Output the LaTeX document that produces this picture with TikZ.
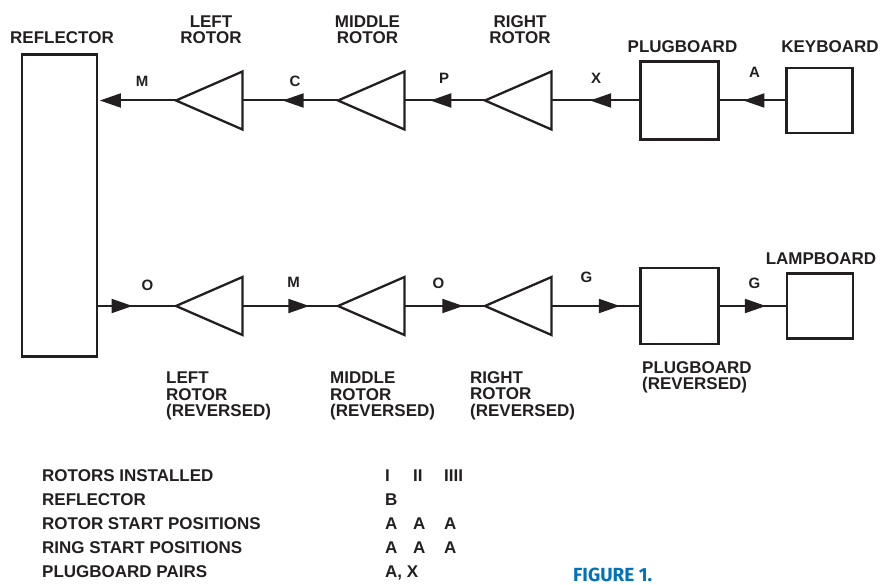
\documentclass[tikz,border=0pt]{standalone}
\usepackage{fontspec}
\setmainfont{Liberation Sans}
\newfontfamily\figfont{Fira Sans}
\usetikzlibrary{arrows.meta,decorations.markings}
\definecolor{ink}{RGB}{35,31,32}
\definecolor{figblue}{RGB}{0,114,188}
\begin{document}
\begin{tikzpicture}[x=1pt,y=-1pt,
  box/.style={draw=ink, line width=2.7pt, inner sep=0pt},
  conn/.style={draw=ink, color=ink, line width=2pt},
  tipat/.style={postaction={decorate}, decoration={markings, mark=at position #1 with {\arrow{Triangle[length=21pt,width=14pt]}}}},
  lbl/.style={font=\fontsize{17}{16.5}\selectfont\bfseries, text=ink, inner sep=0pt},
  letterlbl/.style={font=\fontsize{15}{15}\selectfont\bfseries, text=ink, inner sep=0pt},
  rotorpic/.pic={\draw[ink, line width=2.3pt, line join=miter] (0,0) -- (66.5,-29) -- (66.5,29) -- cycle;
                 \coordinate (-tip) at (0,0); \coordinate (-base) at (66.5,0);}
]
\useasboundingbox (0,0) rectangle (880,585);

% boxes
\node[box, minimum width=75pt, minimum height=302pt] (refl) at (59.5,205.5) {};
\node[box, minimum width=78pt, minimum height=78pt] (plug) at (679.5,100.5) {};
\node[box, minimum width=66pt, minimum height=65pt] (key) at (819.5,100.5) {};
\node[box, minimum width=78pt, minimum height=76pt] (plugR) at (679.5,306) {};
\node[box, minimum width=66pt, minimum height=65pt] (lamp) at (820,306) {};

% rotors
\pic (lr) at (176,100.5) {rotorpic};
\pic (mr) at (338,100.5) {rotorpic};
\pic (rr) at (485,100.5) {rotorpic};
\pic (lrb) at (176,306) {rotorpic};
\pic (mrb) at (338,306) {rotorpic};
\pic (rrb) at (485,306) {rotorpic};

% forward path
\draw[conn,-{Triangle[length=21pt,width=14pt]},shorten >=1.5pt] (lr-tip) -- (refl.east |- lr-tip);
\draw[conn,tipat=0.58] (mr-tip) -- (lr-base);
\draw[conn,tipat=0.68] (rr-tip) -- (mr-base);
\draw[conn,tipat=0.56] (plug.west) -- (rr-base);
\draw[conn,tipat=0.64] (key.west) -- (plug.east);
% return path
\draw[conn,tipat=0.44] (refl.east |- lrb-tip) -- (lrb-tip);
\draw[conn,tipat=0.7] (lrb-base) -- (mrb-tip);
\draw[conn,tipat=0.73] (mrb-base) -- (rrb-tip);
\draw[conn,tipat=0.78] (rrb-base) -- (plugR.west);
\draw[conn,tipat=0.7] (plugR.east) -- (lamp.west);

% letters
\node[letterlbl] (l1) at (142,81.5) {M};
\node[letterlbl] (l2) at (295,81) {C};
\node[letterlbl] (l3) at (444,78) {P};
\node[letterlbl] (l4) at (596,78) {X};
\node[letterlbl] (l5) at (754.5,72) {A};
\node[letterlbl] (l6) at (147.5,285.5) {O};
\node[letterlbl] (l7) at (293.5,282.5) {M};
\node[letterlbl] (l8) at (438.5,283) {O};
\node[letterlbl] (l9) at (586.5,277.5) {G};
\node[letterlbl] (l10) at (754.5,283.5) {G};

% top labels
\node[lbl] (t-refl) at (62,37.5) {REFLECTOR};
\node[lbl, align=center] (t-lr) at (211,29.5) {LEFT\\ROTOR};
\node[lbl, align=center] (t-mr) at (367.5,29.5) {MIDDLE\\ROTOR};
\node[lbl, align=center] (t-rr) at (520,29.5) {RIGHT\\ROTOR};
\node[lbl] (t-plug) at (682.5,46.5) {PLUGBOARD};
\node[lbl] (t-key) at (830,46.5) {KEYBOARD};
\node[lbl] (t-lamp) at (821,259) {LAMPBOARD};

% bottom labels
\node[lbl, align=left, anchor=north west] (b-lr) at (166,372) {LEFT\\ROTOR\\(REVERSED)};
\node[lbl, align=left, anchor=north west] (b-mr) at (330,372) {MIDDLE\\ROTOR\\(REVERSED)};
\node[lbl, align=left, anchor=north west] (b-rr) at (470,371) {RIGHT\\ROTOR\\(REVERSED)};
\node[lbl, align=left, anchor=north west] (b-plug) at (642,361) {PLUGBOARD\\(REVERSED)};

% settings table
\node[lbl, anchor=base west] (tbl) at (42,481) {\fontsize{17}{24.2}\selectfont
\begin{tabular}[t]{@{}p{343pt}@{}p{28pt}@{}p{31pt}@{}l@{}}
ROTORS INSTALLED & I & II & IIII\\
REFLECTOR & B & & \\
ROTOR START POSITIONS & A & A & A\\
RING START POSITIONS & A & A & A\\
PLUGBOARD PAIRS & \multicolumn{3}{@{}l@{}}{A, X}\\
\end{tabular}};

\node[font=\figfont\bfseries\fontsize{19}{19}\selectfont, text=figblue, anchor=base west, inner sep=0pt] (fig) at (573,581) {FIGURE 1.};
\end{tikzpicture}
\end{document}
